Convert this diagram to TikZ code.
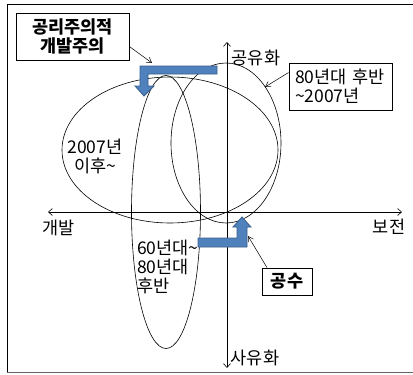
\documentclass[tikz,border=0pt]{standalone}
\usepackage{fontspec}
\setmainfont{Noto Sans CJK KR}
\usetikzlibrary{arrows.meta}
\definecolor{arrfill}{HTML}{4F81BD}
\definecolor{arrline}{HTML}{385D8A}
\tikzset{
  txt/.style={inner sep=0pt, font=\fontsize{17.5}{19}\selectfont},
  boxed/.style={draw, line width=0.8pt, inner sep=0pt, align=center},
  ell/.style={draw, line width=0.6pt},
  axis/.style={draw, line width=0.6pt, {Straight Barb[length=4pt,width=7pt]}-{Straight Barb[length=4pt,width=7pt]}},
  pointer/.style={draw, line width=0.5pt, -{Straight Barb[length=5pt,width=6pt]}},
  blockarrow/.style={fill=arrfill, draw=arrline, line width=0.8pt, line join=miter}
}
\begin{document}
\begin{tikzpicture}[x=1pt,y=-1pt]
\useasboundingbox (0,0) rectangle (413,375);
% frame
\draw[line width=0.9pt] (413,4.5) -- (7.5,4.5) -- (7.5,372);
\draw[line width=1.6pt, gray!80!black] (7,372.5) -- (413,372.5);

% ellipses
\draw[ell] (170,150) ellipse [x radius=108, y radius=73];
\draw[ell] (166,212) ellipse [x radius=34.5, y radius=136.5];
\draw[ell] (226,143) ellipse [x radius=55, y radius=80];

% axes
\coordinate (axL) at (48,212);
\coordinate (axR) at (402,212);
\coordinate (axT) at (227,42);
\coordinate (axB) at (227,368);
\draw[axis] (axL) -- (axR);
\draw[axis] (axB) -- (axT);

% axis labels
\node[txt] (dev) at (59,228) {개발};
\node[txt] (cons) at (389,227) {보전};
\node[txt] (pub) at (256,58) {공유화};
\node[txt] (priv) at (255,358) {사유화};

% ellipse labels
\node[txt, align=center] (after) at (95,156) {2007년\\이후\textasciitilde};
\node[txt, align=left, anchor=north west] (early) at (137,240) {60년대\textasciitilde\\80년대\\후반};

% boxes
\node[txt, boxed, font=\fontsize{17.5}{19.5}\selectfont\bfseries, minimum width=113pt, minimum height=47pt] (b1) at (72.5,36.5) {공리주의적\\개발주의};
\node[txt, boxed, align=left, minimum width=103pt, minimum height=47pt, text width=91pt] (b2) at (340.5,86.5) {80년대 후반\\\textasciitilde 2007년};
\node[txt, boxed, font=\fontsize{17.5}{19}\selectfont\bfseries, minimum width=50pt, minimum height=27pt] (b3) at (287,281.5) {공수};

% pointers
\coordinate (p1) at (152,63);
\coordinate (p2) at (265,87);
\coordinate (p3) at (248,236);
\draw[pointer] ([yshift=-10pt]b1.east) -- (p1);
\draw[pointer] ([yshift=14pt]b2.west) -- (p2);
\draw[pointer] ([xshift=-20pt]b3.north) -- (p3);

% blue bent arrows
\draw[blockarrow] (217,66) -- (140,66) -- (140,86) -- (135,86) -- (144,96) -- (154,86) -- (148,86) -- (148,74) -- (217,74) -- cycle;
\draw[blockarrow] (198,238) -- (237,238) -- (237,227) -- (233,227) -- (242,217) -- (251,227) -- (247,227) -- (247,247) -- (198,247) -- cycle;
\end{tikzpicture}
\end{document}
